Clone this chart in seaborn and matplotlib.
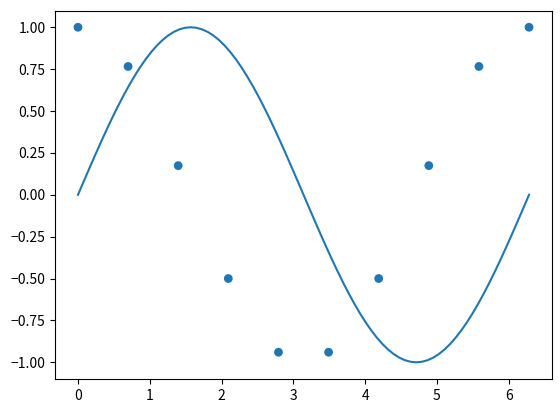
import matplotlib
matplotlib.use("Agg")
import matplotlib.pyplot as plt
import seaborn as sns

plt.rcParams['font.family'] = ['Noto Sans CJK JP', 'DejaVu Sans']
plt.rcParams['axes.unicode_minus'] = True

line_x = [0.0000, 0.0785, 0.1571, 0.2356, 0.3142, 0.3927, 0.4712, 0.5498, 0.6283, 0.7069,
          0.7854, 0.8639, 0.9425, 1.0210, 1.0996, 1.1781, 1.2566, 1.3352, 1.4137, 1.4923,
          1.5708, 1.6493, 1.7279, 1.8064, 1.8850, 1.9635, 2.0420, 2.1206, 2.1991, 2.2777,
          2.3562, 2.4347, 2.5133, 2.5918, 2.6704, 2.7489, 2.8274, 2.9060, 2.9845, 3.0631,
          3.1416, 3.2201, 3.2987, 3.3772, 3.4558, 3.5343, 3.6128, 3.6914, 3.7699, 3.8485,
          3.9270, 4.0055, 4.0841, 4.1626, 4.2412, 4.3197, 4.3982, 4.4768, 4.5553, 4.6339,
          4.7124, 4.7909, 4.8695, 4.9480, 5.0265, 5.1051, 5.1836, 5.2622, 5.3407, 5.4193,
          5.4978, 5.5763, 5.6549, 5.7334, 5.8119, 5.8905, 5.9690, 6.0476, 6.1261, 6.2046,
          6.2832]
line_y = [0.0000, 0.0785, 0.1564, 0.2334, 0.3090, 0.3827, 0.4540, 0.5225, 0.5878, 0.6494,
          0.7071, 0.7604, 0.8090, 0.8526, 0.8910, 0.9239, 0.9511, 0.9724, 0.9877, 0.9969,
          1.0000, 0.9969, 0.9877, 0.9724, 0.9511, 0.9239, 0.8910, 0.8526, 0.8090, 0.7604,
          0.7071, 0.6494, 0.5878, 0.5225, 0.4540, 0.3827, 0.3090, 0.2334, 0.1564, 0.0785,
          0.0000, -0.0785, -0.1564, -0.2334, -0.3090, -0.3827, -0.4540, -0.5225, -0.5878, -0.6494,
          -0.7071, -0.7604, -0.8090, -0.8526, -0.8910, -0.9239, -0.9511, -0.9724, -0.9877, -0.9969,
          -1.0000, -0.9969, -0.9877, -0.9724, -0.9511, -0.9239, -0.8910, -0.8526, -0.8090, -0.7604,
          -0.7071, -0.6494, -0.5878, -0.5225, -0.4540, -0.3827, -0.3090, -0.2334, -0.1564, -0.0785,
          0.0000]

pts_x = [0.000, 0.698, 1.396, 2.094, 2.793, 3.491, 4.189, 4.887, 5.585, 6.283]
pts_y = [1.000, 0.766, 0.174, -0.500, -0.940, -0.940, -0.500, 0.174, 0.766, 1.000]

fig, ax = plt.subplots(figsize=(5.6, 4.12), dpi=100)
fig.subplots_adjust(left=0.099, right=0.985, top=0.9745, bottom=0.080)

sns.lineplot(x=line_x, y=line_y, ax=ax, color='#1f77b4', linewidth=1.5, sort=False)
sns.scatterplot(x=pts_x, y=pts_y, ax=ax, color='#1f77b4', s=40, edgecolor='none')

ax.set_yticks([-1.0, -0.75, -0.5, -0.25, 0.0, 0.25, 0.5, 0.75, 1.0])
ax.set_yticklabels(['−1.00', '−0.75', '−0.50', '−0.25', '0.00', '0.25', '0.50', '0.75', '1.00'])
ax.set_xticks([0, 1, 2, 3, 4, 5, 6])

fig.savefig('out.png', dpi=100)
